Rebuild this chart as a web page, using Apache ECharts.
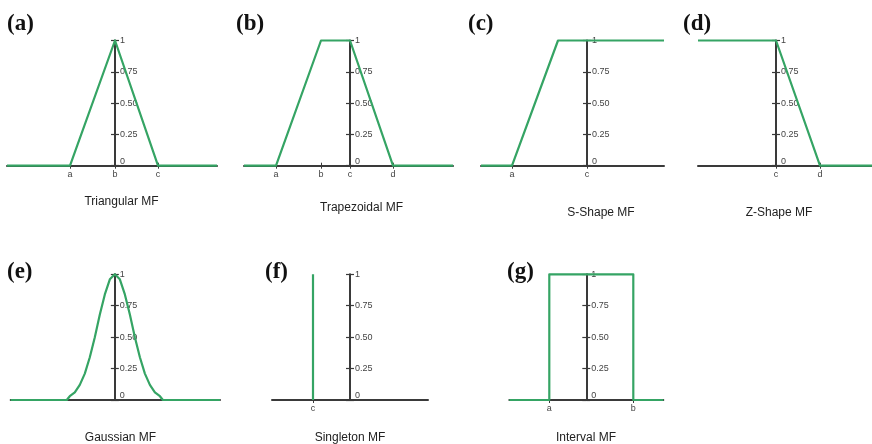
<!DOCTYPE html>
<html>
<head>
<meta charset="utf-8">
<script src="https://cdn.jsdelivr.net/npm/echarts@6/dist/echarts.min.js"></script>
<style>
  html, body { margin: 0; padding: 0; background: #ffffff; }
  #chart { width: 872px; height: 444px; }
</style>
</head>
<body>
<div id="chart"></div>
<script>
// Membership grade ticks shared by every panel
const gradeTicks = [0, 0.25, 0.5, 0.75, 1];
const gradeLabels = ['0', '0.25', '0.50', '0.75', '1'];

const panelTags = ['(a)', '(b)', '(c)', '(d)', '(e)', '(f)', '(g)'];
const panelNames = ['Triangular MF', 'Trapezoidal MF', 'S-Shape MF', 'Z-Shape MF',
                    'Gaussian MF', 'Singleton MF', 'Interval MF'];

// Universe of discourse limits for each panel
const domainMin = [-10.8, -10.6, -10.6, -7.8, -10.4, -7.8, -7.7];
const domainMax = [10.2, 10.3, 7.7, 9.6, 10.5, 7.8, 7.7];

// Parameter positions marked under each x axis
const paramValues = [[-4.5, 0, 4.3], [-7.4, -2.9, 0, 4.3], [-7.5, 0], [0, 4.4], [], [-3.7], [-3.7, 4.7]];
const paramNames = [['a', 'b', 'c'], ['a', 'b', 'c', 'd'], ['a', 'c'], ['c', 'd'], [], ['c'], ['a', 'b']];

// Membership curves
const triX = [-10.8, -4.5, 0, 4.3, 10.2];
const triY = [0, 0, 1, 0, 0];
const trapX = [-10.6, -7.4, -2.9, 0, 4.3, 10.3];
const trapY = [0, 0, 1, 1, 0, 0];
const sShapeX = [-10.6, -7.5, -2.9, 7.7];
const sShapeY = [0, 0, 1, 1];
const zShapeX = [-7.8, 0, 4.4, 9.6];
const zShapeY = [1, 1, 0, 0];
const gaussX = [-10.4, -4.8, -4.5, -4, -3.5, -3, -2.5, -2, -1.5, -1, -0.5, 0,
                0.5, 1, 1.5, 2, 2.5, 3, 3.5, 4, 4.5, 4.8, 10.5];
const gaussY = [0, 0, 0.03, 0.06, 0.12, 0.21, 0.34, 0.5, 0.68, 0.84, 0.96, 1,
                0.96, 0.84, 0.68, 0.5, 0.34, 0.21, 0.12, 0.06, 0.03, 0, 0];
const singletonX = [-3.7, -3.7];
const singletonY = [0, 1];
const intervalX = [-7.7, -3.7, -3.7, 4.7, 4.7, 7.7];
const intervalY = [0, 0, 1, 1, 0, 0];

const curvesX = [triX, trapX, sShapeX, zShapeX, gaussX, singletonX, intervalX];
const curvesY = [triY, trapY, sShapeY, zShapeY, gaussY, singletonY, intervalY];

// ---- layout: plot boxes [left, top, width, height], tag and caption anchors ----
const boxes = [
  [7, 40.5, 210, 125.2], [244, 40.5, 209, 125.2], [481, 40.5, 183, 125.2], [698, 40.5, 174, 125.2],
  [10.7, 274.3, 209.3, 125.7], [272, 274.3, 156, 125.7], [509.3, 274.3, 154, 125.7]
];
const tagPos = [[7, 24], [236, 24], [468, 24], [683, 24], [7, 272], [265, 272], [507, 272]];
const captionPos = [[121.5, 202], [361.5, 208], [601, 213], [779, 213], [120.5, 437.5], [350, 437.5], [586, 437.5]];

const GREEN = '#35a464';
const AXIS = '#3a3a3a';
const LABEL_FONT = 'Liberation Sans, Arial, sans-serif';

const grids = [], xAxes = [], yAxes = [], series = [], graphics = [];

panelNames.forEach((name, i) => {
  const [left, top, width, height] = boxes[i];
  const min = domainMin[i], max = domainMax[i];
  // distance from the plot's left edge to x = 0, where the grade axis stands
  const zeroShift = width * (0 - min) / (max - min);
  grids.push({ left, top, width, height, containLabel: false });

  const params = paramValues[i];
  const names = paramNames[i];
  const nameOf = v => { const k = params.indexOf(v); return k >= 0 ? names[k] : ''; };

  // main x axis: line, downward ticks and parameter letters
  xAxes.push({
    gridIndex: i, type: 'value', min, max, position: 'bottom',
    axisLine: { show: true, onZero: false, lineStyle: { color: AXIS, width: 2 } },
    axisTick: { show: params.length > 0, customValues: params, length: 3, lineStyle: { color: AXIS, width: 1 } },
    axisLabel: { show: params.length > 0, customValues: params, formatter: nameOf, margin: 4,
                 fontSize: 9, color: '#444', fontFamily: LABEL_FONT },
    splitLine: { show: false }
  });
  // companion x axis on the same baseline carrying the upward half of each tick
  xAxes.push({
    gridIndex: i, type: 'value', min, max, position: 'top', offset: -height,
    axisLine: { show: false, onZero: false },
    axisTick: { show: params.length > 0, customValues: params, length: 3, lineStyle: { color: AXIS, width: 1 } },
    axisLabel: { show: false },
    splitLine: { show: false }
  });

  // grade axis: line and left half of each tick
  yAxes.push({
    gridIndex: i, type: 'value', min: 0, max: 1, interval: 0.25, position: 'left', offset: -zeroShift,
    axisLine: { show: true, onZero: false, lineStyle: { color: AXIS, width: 2 } },
    axisTick: { show: true, length: 4, lineStyle: { color: AXIS, width: 1.2 } },
    axisLabel: { show: false },
    splitLine: { show: false }
  });
  // right half of each tick plus the grade labels
  yAxes.push({
    gridIndex: i, type: 'value', min: 0, max: 1, interval: 0.25, position: 'right', offset: -(width - zeroShift),
    axisLine: { show: false, onZero: false },
    axisTick: { show: true, length: 4, lineStyle: { color: AXIS, width: 1.2 } },
    axisLabel: {
      show: true, margin: 5, fontSize: 9, color: '#444', fontFamily: LABEL_FONT,
      formatter: v => {
        const k = gradeTicks.indexOf(v);
        const txt = k >= 0 ? gradeLabels[k] : '';
        return v === 0 ? '{lift|' + txt + '}' : txt;
      },
      rich: { lift: { fontSize: 9, color: '#444', fontFamily: LABEL_FONT, padding: [0, 0, 9, 0] } }
    },
    splitLine: { show: false }
  });

  series.push({
    type: 'line',
    xAxisIndex: 2 * i, yAxisIndex: 2 * i,
    data: curvesX[i].map((x, k) => [x, curvesY[i][k]]),
    showSymbol: false, symbol: 'none',
    smooth: false,
    clip: false, z: 3,
    lineStyle: { color: GREEN, width: 2.2, join: 'round' },
    animation: false
  });

  graphics.push({
    type: 'text', x: tagPos[i][0], y: tagPos[i][1],
    style: { text: panelTags[i], fill: '#111', font: 'bold 23px "Liberation Serif", "Times New Roman", serif',
             align: 'left', verticalAlign: 'middle' }
  });
  graphics.push({
    type: 'text', x: captionPos[i][0], y: captionPos[i][1],
    style: { text: name, fill: '#222', font: '12px "Liberation Sans", Arial, sans-serif',
             align: 'center', verticalAlign: 'middle' }
  });
});

const chart = echarts.init(document.getElementById('chart'), null, { renderer: 'canvas' });
chart.setOption({
  backgroundColor: '#ffffff',
  animation: false,
  grid: grids,
  xAxis: xAxes,
  yAxis: yAxes,
  series,
  graphic: graphics
});
</script>
</body>
</html>
